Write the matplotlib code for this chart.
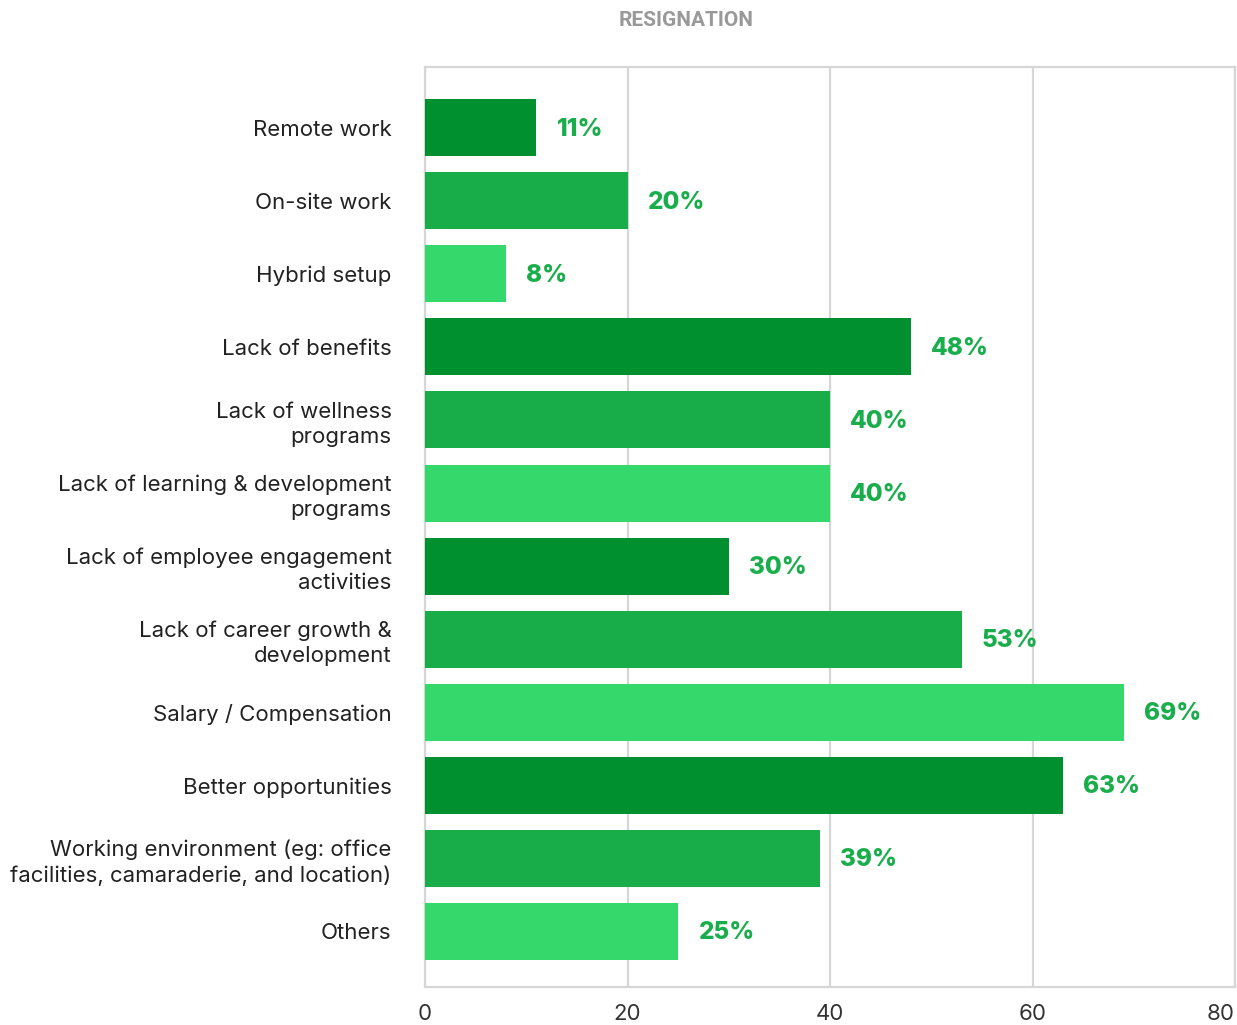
import matplotlib
matplotlib.use('Agg')
from matplotlib import pyplot as plt
import numpy as np

plt.rcParams['font.family'] = ['Inter', 'DejaVu Sans']

reasons = ['Remote work', 'On-site work', 'Hybrid setup', 'Lack of benefits',
           'Lack of wellness\nprograms', 'Lack of learning & development\nprograms',
           'Lack of employee engagement\nactivities', 'Lack of career growth &\ndevelopment',
           'Salary / Compensation', 'Better opportunities',
           'Working environment (eg: office\nfacilities, camaraderie, and location)', 'Others']
percent = [11, 20, 8, 48, 40, 40, 30, 53, 69, 63, 39, 25]
xticks = [0, 20, 40, 60, 80]

shades = ['#00902f', '#19ad4a', '#35d96b']
colors = [shades[i % 3] for i in range(len(reasons))]

fig = plt.figure(figsize=(12.37, 10.25), dpi=100)
ax = fig.add_axes([0.3436, 0.0371, 0.6548, 0.8975])

y = np.arange(len(reasons))
ax.barh(y, percent, height=0.78, color=colors, zorder=3)

for yi, v in zip(y, percent):
    ax.text(v + 2, yi + 0.02, f'{v}%', va='center', ha='left', fontsize=17.5,
            fontweight='heavy', color='#1aad4b', zorder=4)

ax.set_xlim(0, 80)
ax.set_ylim(len(reasons) - 1 + 0.76, -0.83)
ax.set_xticks(xticks)
ax.set_xticklabels([str(t) for t in xticks], fontsize=16, color='#333333')
ax.get_xticklabels()[-1].set_ha('right')
ax.set_yticks(y)
ax.set_yticklabels(reasons, fontsize=16, color='#222222', linespacing=1.3)
ax.tick_params(axis='both', length=0)
ax.tick_params(axis='y', pad=24)
ax.tick_params(axis='x', pad=12)

ax.grid(axis='x', color='#d6d6d6', linewidth=1.6, zorder=0)
ax.grid(axis='y', visible=False)
for s in ax.spines.values():
    s.set_color('#d6d6d6')
    s.set_linewidth(1.6)

fig.text(0.555, 1 - 20 / 1025, 'RESIGNATION', ha='center', va='center',
         fontsize=15, fontweight='bold', color='#999999', family=['Roboto', 'DejaVu Sans'])

fig.savefig('out.png', dpi=100, facecolor='white')
